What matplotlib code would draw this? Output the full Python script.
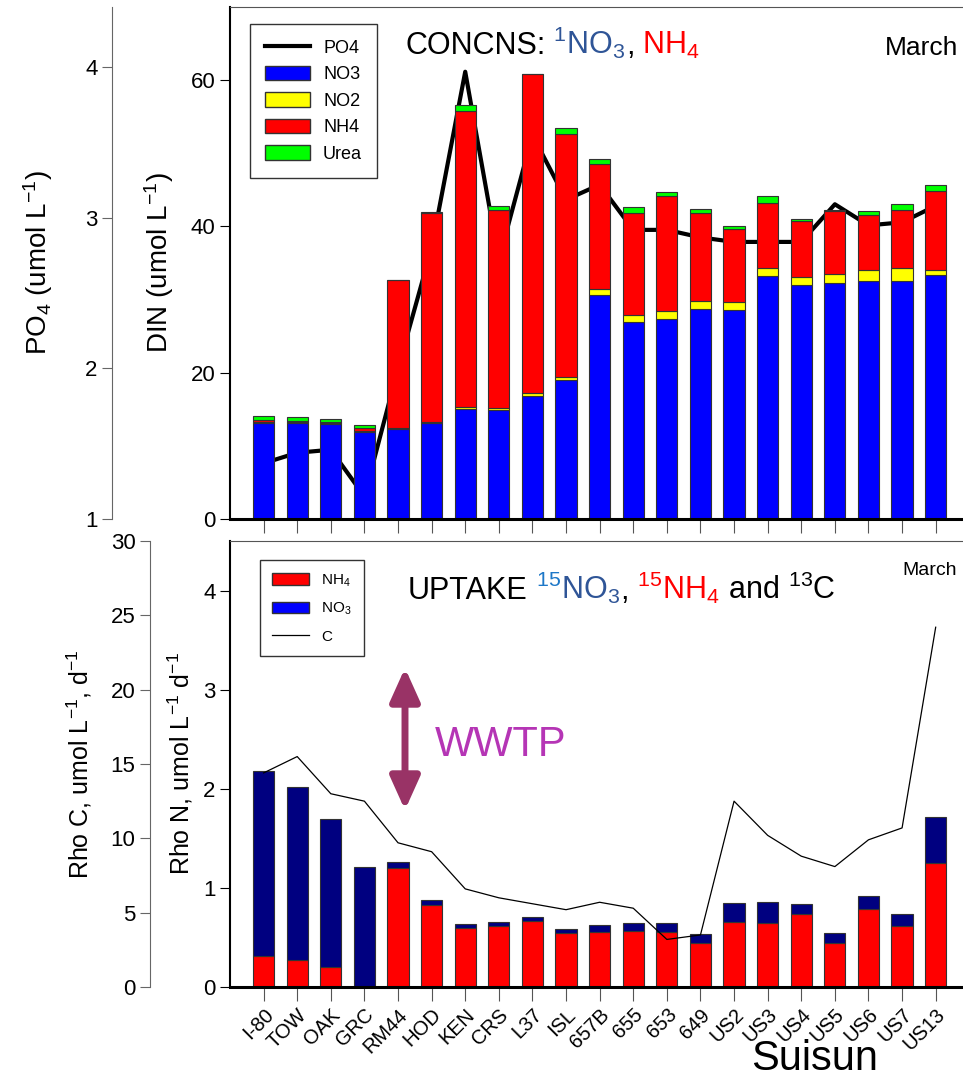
import numpy as np
import matplotlib
matplotlib.use('Agg')
import matplotlib.pyplot as plt
from matplotlib.lines import Line2D
from matplotlib.patches import Patch
from matplotlib.offsetbox import TextArea, HPacker, AnchoredOffsetbox

plt.rcParams.update({
    'font.family': ['Liberation Sans', 'DejaVu Sans'],
    'mathtext.fontset': 'custom',
    'mathtext.rm': 'Liberation Sans',
    'mathtext.it': 'Liberation Sans:italic',
    'mathtext.bf': 'Liberation Sans:bold',
    'mathtext.default': 'regular',
})

stations = ['I-80', 'TOW', 'OAK', 'GRC', 'RM44', 'HOD', 'KEN', 'CRS', 'L37', 'ISL', '657B',
            '655', '653', '649', 'US2', 'US3', 'US4', 'US5', 'US6', 'US7', 'US13']

# top panel: concentrations (umol/L)
no3 = [13.1, 13.1, 12.95, 11.85, 12.3, 13.1, 15.05, 14.9, 16.8, 19.0, 30.6,
       27.0, 27.4, 28.7, 28.6, 33.2, 31.95, 32.2, 32.5, 32.5, 33.3]
no2 = [0.15, 0.15, 0.15, 0.2, 0.17, 0.2, 0.25, 0.3, 0.45, 0.4, 0.9,
       0.85, 1.0, 1.1, 1.1, 1.1, 1.1, 1.25, 1.6, 1.8, 0.7]
nh4 = [0.35, 0.15, 0.15, 0.35, 20.15, 28.55, 40.5, 26.98, 43.6, 33.3, 17.0,
       14.05, 15.8, 12.1, 10.0, 8.9, 7.75, 8.65, 7.5, 7.9, 10.8]
urea = [0.45, 0.5, 0.45, 0.4, 0.1, 0.12, 0.8, 0.6, 0.0, 0.72, 0.74,
        0.7, 0.5, 0.47, 0.3, 1.0, 0.25, 0.2, 0.5, 0.9, 0.9]
po4 = [1.37, 1.44, 1.46, 1.15, 2.0, 2.8, 3.97, 2.72, 3.55, 3.12, 3.22,
       2.92, 2.92, 2.87, 2.84, 2.84, 2.84, 3.09, 2.95, 2.97, 3.08]

# bottom panel: uptake rates
rho_nh4 = [0.31, 0.27, 0.20, 0.0, 1.20, 0.83, 0.60, 0.62, 0.67, 0.54, 0.55,
           0.56, 0.55, 0.44, 0.66, 0.65, 0.74, 0.44, 0.79, 0.62, 1.25]
rho_no3 = [1.87, 1.75, 1.50, 1.21, 0.06, 0.05, 0.04, 0.04, 0.04, 0.05, 0.08,
           0.09, 0.10, 0.09, 0.19, 0.21, 0.095, 0.105, 0.13, 0.12, 0.47]
rho_c = [14.4, 15.5, 13.0, 12.5, 9.7, 9.1, 6.6, 6.0, 5.6, 5.2, 5.7,
         5.3, 3.2, 3.5, 12.5, 10.2, 8.8, 8.1, 9.9, 10.7, 24.2]

W, H = 963, 1077


def rect(l, t, r, b):
    return [l / W, 1 - b / H, (r - l) / W, (b - t) / H]


def color_title(ax, parts, size, xy):
    boxes = [TextArea(t, textprops=dict(color=c, size=size)) for t, c in parts]
    pack = HPacker(children=boxes, align='baseline', pad=0, sep=0)
    box = AnchoredOffsetbox(loc='upper left', child=pack, bbox_to_anchor=xy,
                            bbox_transform=ax.transAxes, frameon=False, pad=0, borderpad=0)
    ax.add_artist(box)


fig = plt.figure(figsize=(9.63, 10.77), dpi=100)
top_rect = rect(230, 7, 975, 519)
bot_rect = rect(230, 541, 975, 987)
x = np.arange(len(stations))
xlim = (-1.0, 21.17)
bw = 0.63
ec = '#333333'

# ---------- top panel ----------
ax_po4 = fig.add_axes(top_rect)
ax_po4.plot(x, po4, color='k', lw=3)
ax_po4.set_xlim(xlim)
ax_po4.set_ylim(1, 4.4)
ax_po4.patch.set_visible(False)
for s in ['top', 'right', 'bottom']:
    ax_po4.spines[s].set_visible(False)
ax_po4.spines['left'].set_position(('axes', (112 - 230) / 745))
ax_po4.spines['left'].set_color('#666666')
ax_po4.set_xticks([])
ax_po4.set_yticks([1, 2, 3, 4])
ax_po4.tick_params(axis='y', colors='#666666', labelcolor='k', labelsize=16, length=7)
ax_po4.set_ylabel('PO$_4$ (umol L$^{-1}$)', fontsize=20)
ax_po4.yaxis.set_label_coords((55 - 230) / 745, 0.5)

ax_din = fig.add_axes(top_rect)
ax_din.patch.set_visible(False)
bottom = np.zeros(len(x))
for vals, col in [(no3, '#0000FF'), (no2, '#FFFF00'), (nh4, '#FF0000'), (urea, '#00FF00')]:
    ax_din.bar(x, vals, bw, bottom=bottom, color=col, edgecolor=ec, lw=0.8)
    bottom += np.array(vals)
ax_din.set_xlim(xlim)
ax_din.set_ylim(0, 70)
ax_din.set_yticks([0, 20, 40, 60])
ax_din.set_xticks(x)
ax_din.tick_params(axis='x', labelbottom=False, length=10, color='#555555')
ax_din.tick_params(axis='y', labelsize=16, length=7)
ax_din.spines['right'].set_visible(False)
ax_din.spines['top'].set_color('#555555')
ax_din.spines['left'].set_linewidth(1.5)
ax_din.spines['bottom'].set_linewidth(2.2)
ax_din.set_ylabel('DIN (umol L$^{-1}$)', fontsize=20)
ax_din.yaxis.set_label_coords((176 - 230) / 745, 0.5)

handles = [Line2D([], [], color='k', lw=3),
           Patch(fc='#0000FF', ec=ec), Patch(fc='#FFFF00', ec=ec),
           Patch(fc='#FF0000', ec=ec), Patch(fc='#00FF00', ec=ec)]
leg = ax_din.legend(handles, ['PO4', 'NO3', 'NO2', 'NH4', 'Urea'], loc='upper left',
                    bbox_to_anchor=((250 - 230) / 745, (519 - 24) / 512), fontsize=13,
                    fancybox=False, edgecolor='#333333', framealpha=1, handlelength=2.5,
                    handleheight=0.85, labelspacing=0.5, borderpad=0.85, handletextpad=0.7,
                    borderaxespad=0)

color_title(ax_din, [('CONCNS:', 'k'), (' $^{1}$NO$_3$', '#2F5597'), (',', 'k'),
                     (' NH$_4$', '#FF0000')], 22, ((405 - 230) / 745, (519 - 25) / 512))
ax_din.text((958 - 230) / 745, (519 - 48) / 512, 'March', transform=ax_din.transAxes,
            ha='right', va='center', fontsize=19)

# ---------- bottom panel ----------
ax_n = fig.add_axes(bot_rect)
ax_n.bar(x, rho_nh4, bw, color='#FF0000', edgecolor=ec, lw=0.8)
ax_n.bar(x, rho_no3, bw, bottom=rho_nh4, color='#000080', edgecolor=ec, lw=0.8)
ax_n.set_xlim(xlim)
ax_n.set_ylim(0, 4.5)
ax_n.set_yticks([0, 1, 2, 3, 4])
ax_n.set_xticks(x)
ax_n.set_xticklabels(stations, rotation=45, ha='right', rotation_mode='anchor', fontsize=14.5)
ax_n.tick_params(axis='x', length=10, color='#555555', pad=3)
ax_n.tick_params(axis='y', labelsize=16, length=7)
ax_n.spines['right'].set_visible(False)
ax_n.spines['top'].set_color('#555555')
ax_n.spines['left'].set_linewidth(1.5)
ax_n.spines['bottom'].set_linewidth(2.2)
ax_n.set_ylabel('Rho N, umol L$^{-1}$ d$^{-1}$', fontsize=18)
ax_n.yaxis.set_label_coords((195 - 230) / 745, 0.5)

ax_n.annotate('', xy=((405 - 230) / 745, (987 - 810) / 446),
              xytext=((405 - 230) / 745, (987 - 668) / 446), xycoords='axes fraction',
              arrowprops=dict(arrowstyle='<|-|>,head_length=1.0,head_width=0.45',
                              mutation_scale=20, color='#993366', lw=5, shrinkA=0, shrinkB=0))
ax_n.text((435 - 230) / 745, (987 - 745) / 446, 'WWTP', transform=ax_n.transAxes,
          ha='left', va='center', fontsize=30, color='#B535B5')

ax_c = fig.add_axes(bot_rect)
ax_c.patch.set_visible(False)
ax_c.plot(x, rho_c, color='k', lw=0.9)
ax_c.set_xlim(xlim)
ax_c.set_ylim(0, 30)
for s in ['top', 'right', 'bottom']:
    ax_c.spines[s].set_visible(False)
ax_c.spines['left'].set_position(('axes', (150 - 230) / 745))
ax_c.spines['left'].set_color('#666666')
ax_c.set_xticks([])
ax_c.set_yticks([0, 5, 10, 15, 20, 25, 30])
ax_c.tick_params(axis='y', colors='#666666', labelcolor='k', labelsize=16, length=7)
ax_c.set_ylabel('Rho C, umol L$^{-1}$, d$^{-1}$', fontsize=18)
ax_c.yaxis.set_label_coords((94 - 230) / 745, 0.5)

handles2 = [Patch(fc='#FF0000', ec=ec), Patch(fc='#0000FF', ec=ec), Line2D([], [], color='k', lw=0.9)]
ax_c.legend(handles2, ['NH$_4$', 'NO$_3$', 'C'], loc='upper left',
            bbox_to_anchor=((260 - 230) / 745, (987 - 560) / 446), fontsize=11,
            fancybox=False, edgecolor='#333333', framealpha=1, handlelength=2.4,
            handleheight=0.8, labelspacing=0.8, borderpad=0.8, handletextpad=0.8,
            borderaxespad=0)

color_title(ax_c, [('UPTAKE', 'k'), (' $^{15}$', '#1E78C8'), ('NO$_3$', '#2F5597'), (',', 'k'),
                   (' $^{15}$NH$_4$', '#FF0000'), (' and $^{13}$C', 'k')], 22,
            ((408 - 230) / 745, (987 - 570) / 446))
ax_c.text((957 - 230) / 745, (987 - 570) / 446, 'March', transform=ax_c.transAxes,
          ha='right', va='center', fontsize=14)

fig.text(815 / W, 1 - 1059 / H, 'Suisun', ha='center', va='center', fontsize=30)

fig.savefig('out.png', dpi=100)
